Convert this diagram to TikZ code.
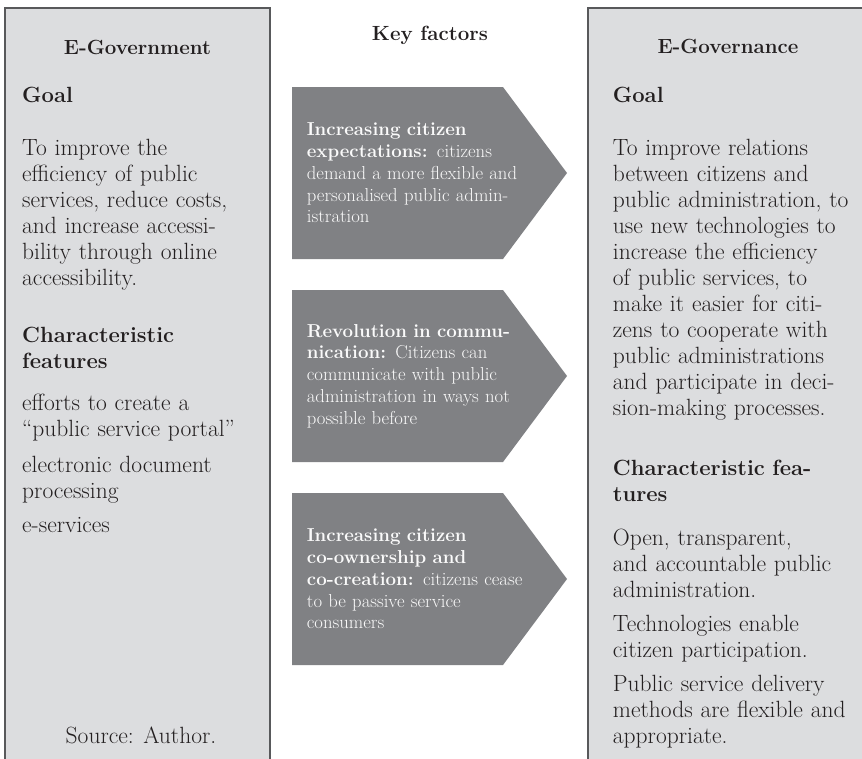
\documentclass[tikz,border=0pt]{standalone}
\usepackage{tikz}
\definecolor{boxgray}{RGB}{220,221,223}
\definecolor{arrowgray}{RGB}{128,129,132}
\definecolor{bordergray}{RGB}{88,89,91}
\definecolor{textdark}{RGB}{35,31,32}
\definecolor{arrowtext}{RGB}{250,250,250}
\tikzset{
  boxbg/.style={fill=boxgray, draw=none, inner sep=0pt, outer sep=0pt, anchor=north west},
  boxline/.style={draw=bordergray, line width=1.1pt},
  chevron/.style={fill=arrowgray},
  headtxt/.style={font=\bfseries\fontsize{20.5}{24}\selectfont, text=textdark, inner sep=0pt, anchor=base},
  subtxt/.style={font=\bfseries\fontsize{22}{26.5}\selectfont, text=textdark, inner sep=0pt, anchor=base west, text width=300pt, align=left},
  bodytxt/.style={font=\fontsize{23.5}{26}\selectfont, text=textdark, inner sep=0pt, anchor=base west, text width=300pt, align=left},
  arrtxt/.style={font=\fontsize{18.7}{21.7}\selectfont, text=arrowtext, inner sep=0pt, anchor=west, text width=280pt, align=left}
}
\begin{document}
\begin{tikzpicture}[x=1pt,y=-1pt]
\useasboundingbox (0,0) rectangle (862,758);
\fill[white] (0,0) rectangle (862,758);

% boxes
\node[boxbg, minimum width=265pt, minimum height=770pt] (L) at (5,8) {};
\draw[boxline] (L.south west) -- (L.north west) -- (L.north east) -- (L.south east);
\node[boxbg, minimum width=290pt, minimum height=770pt] (R) at (588,8) {};
\draw[boxline] (R.south west) -- (R.north west) -- (R.north east);

% chevrons
\fill[chevron] (292,87) -- (503,87) -- (567,173) -- (503,259) -- (292,259) -- cycle;
\fill[chevron] (292,290) -- (503,290) -- (567,376) -- (503,462) -- (292,462) -- cycle;
\fill[chevron] (292,493) -- (503,493) -- (567,579) -- (503,665) -- (292,665) -- cycle;

% headings
\node[headtxt] (lhead) at (137.5,54) {E-Government};
\node[headtxt] (khead) at (430,40) {Key factors};
\node[headtxt] (rhead) at (728,53) {E-Governance};

% left column
\node[subtxt] (lgoal) at (22,102) {Goal};
\node[bodytxt] (lgoaltxt) at (22,155) {To improve the\\efficiency of public\\services, reduce costs,\\and increase accessi-\\bility through online\\accessibility.};
\node[subtxt] (lfeat) at (22,342) {Characteristic\\features};
\node[bodytxt] (lf1) at (22,410) {efforts to create a\\“public service portal”};
\node[bodytxt] (lf2) at (22,472) {electronic document\\processing};
\node[bodytxt] (lf3) at (22,532) {e-services};
\node[font=\fontsize{23.5}{26}\selectfont, text=textdark, inner sep=0pt, anchor=base] (src) at (141,743) {Source: Author.};

% key factor texts
\node[arrtxt] (k1) at (306.7,173) {\textbf{Increasing citizen}\\\textbf{expectations:} citizens\\demand a more flexible and\\personalised public admin-\\istration};
\node[arrtxt] (k2) at (306.7,376) {\textbf{Revolution in commu-}\\\textbf{nication:} Citizens can\\communicate with public\\administration in ways not\\possible before};
\node[arrtxt] (k3) at (306.7,579) {\textbf{Increasing citizen}\\\textbf{co-ownership and}\\\textbf{co-creation:} citizens cease\\to be passive service\\consumers};

% right column
\node[subtxt] (rgoal) at (612.7,102) {Goal};
\node[bodytxt] (rgoaltxt) at (612.7,155) {To improve relations\\between citizens and\\public administration, to\\use new technologies to\\increase the efficiency\\of public services, to\\make it easier for citi-\\zens to cooperate with\\public administrations\\and participate in deci-\\sion-making processes.};
\node[subtxt] (rfeat) at (612.7,475) {Characteristic fea-\\tures};
\node[bodytxt] (rf1) at (612.7,545) {Open, transparent,\\and accountable public\\administration.};
\node[bodytxt] (rf2) at (612.7,631) {Technologies enable\\citizen participation.};
\node[bodytxt] (rf3) at (612.7,691) {Public service delivery\\methods are flexible and\\appropriate.};
\end{tikzpicture}
\end{document}
